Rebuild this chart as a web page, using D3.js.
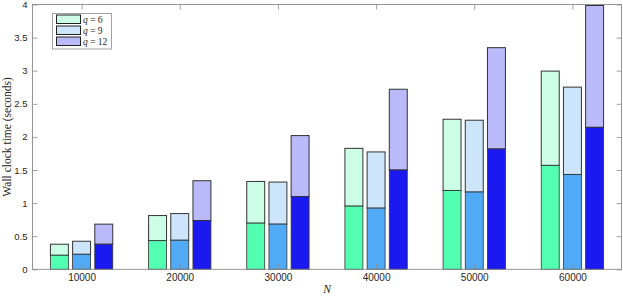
<!DOCTYPE html>
<html><head><meta charset="utf-8">
<script src="https://cdn.jsdelivr.net/npm/d3@7"></script>
<style>body{margin:0;background:#fff;} svg{display:block;}</style>
</head><body>
<svg id="c" width="623" height="296"></svg>
<script>
const categories = [10000, 20000, 30000, 40000, 50000, 60000];
const seriesNames = ["q = 6", "q = 9", "q = 12"];
const qValues = [6, 9, 12];
// bottom (dark) part of each stacked bar
const bottomQ6  = [0.212, 0.433, 0.697, 0.954, 1.191, 1.570];
const bottomQ9  = [0.227, 0.439, 0.682, 0.924, 1.167, 1.433];
const bottomQ12 = [0.379, 0.736, 1.100, 1.500, 1.818, 2.145];
// total height of each stacked bar
const totalQ6  = [0.379, 0.812, 1.327, 1.827, 2.267, 2.994];
const totalQ9  = [0.424, 0.842, 1.318, 1.773, 2.252, 2.752];
const totalQ12 = [0.682, 1.338, 2.020, 2.720, 3.348, 3.985];
const yTicks = [0, 0.5, 1, 1.5, 2, 2.5, 3, 3.5, 4];
const xTicks = categories;

const darkColors = ["#52ffb0", "#50aaf5", "#1a1af0"];
const lightColors = ["#ccfde6", "#cce5fb", "#babafa"];

const bottoms = [bottomQ6, bottomQ9, bottomQ12];
const totals = [totalQ6, totalQ9, totalQ12];

const svg = d3.select("#c");
const L = 32.5, R = 621.5, T = 4.5, B = 269.3;
const x = d3.scaleLinear().domain([5000, 65000]).range([L, R]);
const y = d3.scaleLinear().domain([0, 4]).range([B, T]);

const offset = 2260, barW = 1830;
const axisColor = "#8a8a8a";
const textColor = "#262626";

// bars
seriesNames.forEach((name, s) => {
  const g = svg.append("g");
  categories.forEach((c, i) => {
    const cx = c + (s - 1) * offset;
    const x0 = x(cx - barW / 2), x1 = x(cx + barW / 2);
    g.append("rect")
      .attr("x", x0).attr("width", x1 - x0)
      .attr("y", y(totals[s][i])).attr("height", y(bottoms[s][i]) - y(totals[s][i]))
      .attr("fill", lightColors[s]).attr("stroke", "#333").attr("stroke-width", 1);
    g.append("rect")
      .attr("x", x0).attr("width", x1 - x0)
      .attr("y", y(bottoms[s][i])).attr("height", y(0) - y(bottoms[s][i]))
      .attr("fill", darkColors[s]).attr("stroke", "#333").attr("stroke-width", 0.8);
  });
});

// axes
const font = "'Liberation Sans', Arial, sans-serif";
const yAxisL = d3.axisLeft(y).tickValues(yTicks).tickSize(-5).tickPadding(5).tickFormat(d => String(d));
const yAxisR = d3.axisRight(y).tickValues(yTicks).tickSize(-5).tickFormat("");
const xAxisB = d3.axisBottom(x).tickValues(xTicks).tickSize(-5).tickPadding(5).tickFormat(d => String(d));
const xAxisT = d3.axisTop(x).tickValues(xTicks).tickSize(-5).tickFormat("");

function style(g, fs) {
  g.select(".domain").remove();
  g.selectAll(".tick line").attr("stroke", axisColor).attr("stroke-width", 0.8);
  g.selectAll(".tick text").attr("fill", textColor).attr("font-family", font).attr("font-size", fs);
}
svg.append("g").attr("transform", `translate(${L},0)`).call(yAxisL).call(style, 9.5);
svg.append("g").attr("transform", `translate(${R},0)`).call(yAxisR).call(style, 9.5);
svg.append("g").attr("transform", `translate(0,${B})`).call(xAxisB).call(style, 10);
svg.append("g").attr("transform", `translate(0,${T})`).call(xAxisT).call(style, 10);

// box
svg.append("rect").attr("x", L).attr("y", T).attr("width", R - L).attr("height", B - T)
  .attr("fill", "none").attr("stroke", axisColor).attr("stroke-width", 0.9);

// axis labels
svg.append("text").attr("transform", `translate(11,${(T + B) / 2}) rotate(-90)`)
  .attr("text-anchor", "middle").attr("font-family", "'Liberation Serif', serif").attr("font-size", 11.5)
  .attr("fill", textColor).text("Wall clock time (seconds)");
svg.append("text").attr("x", (L + R) / 2).attr("y", 293)
  .attr("text-anchor", "middle").attr("font-family", "'Liberation Serif', serif").attr("font-style", "italic")
  .attr("font-size", 11.5).attr("fill", textColor).text("N");

// legend
const leg = svg.append("g");
leg.append("rect").attr("x", 52.5).attr("y", 13.5).attr("width", 59).attr("height", 35.5)
  .attr("fill", "#fff").attr("stroke", axisColor).attr("stroke-width", 0.8);
seriesNames.forEach((name, s) => {
  const yy = 14.5 + s * 11;
  leg.append("rect").attr("x", 56.5).attr("y", yy + 0.5).attr("width", 24).attr("height", 8.5)
    .attr("fill", lightColors[s]).attr("stroke", "#222").attr("stroke-width", 1);
  const t = leg.append("text").attr("x", 83).attr("y", yy + 8.3)
    .attr("font-family", "'Liberation Serif', serif").attr("font-size", 9.5).attr("fill", textColor);
  t.append("tspan").attr("font-style", "italic").text("q");
  t.append("tspan").text(" = " + qValues[s]);
});
</script>
</body></html>
